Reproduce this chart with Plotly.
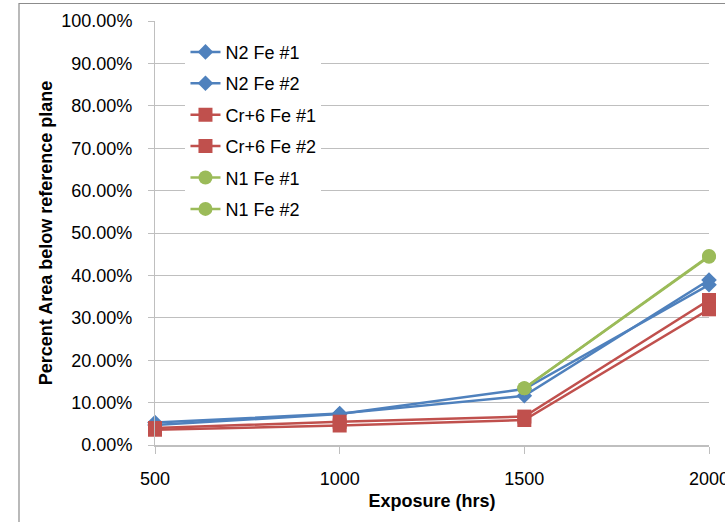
import plotly.graph_objects as go

exposure = [500, 1000, 1500, 2000]
exposure_n1 = [1500, 2000]

n2_fe1 = [0.053, 0.074, 0.116, 0.389]
n2_fe2 = [0.047, 0.073, 0.132, 0.378]
cr6_fe1 = [0.040, 0.055, 0.067, 0.342]
cr6_fe2 = [0.036, 0.046, 0.059, 0.320]
n1_fe1 = [0.134, 0.446]
n1_fe2 = [0.134, 0.444]

y_ticks = [i / 10 for i in range(11)]
x_ticks = [500, 1000, 1500, 2000]

BLUE = "#4F81BD"
RED = "#C0504D"
GREEN = "#9BBB59"
FONT = "Liberation Sans, Arial, sans-serif"

series = [
    ("N2 Fe #1", exposure, n2_fe1, BLUE, "diamond", 12),
    ("N2 Fe #2", exposure, n2_fe2, BLUE, "diamond", 12),
    ("Cr+6 Fe #1", exposure, cr6_fe1, RED, "square", 14),
    ("Cr+6 Fe #2", exposure, cr6_fe2, RED, "square", 14),
    ("N1 Fe #1", exposure_n1, n1_fe1, GREEN, "circle", 14),
    ("N1 Fe #2", exposure_n1, n1_fe2, GREEN, "circle", 14),
]

fig = go.Figure()
for i, (name, xs, ys, color, sym, sz) in enumerate(series):
    fig.add_trace(go.Scatter(
        x=xs, y=ys, name=name, mode="lines+markers",
        line=dict(color=color, width=2.5),
        marker=dict(color=color, symbol=sym, size=sz),
        legendgroup=f"g{i}", cliponaxis=False,
    ))

fig.update_layout(
    width=725, height=522,
    margin=dict(l=155, r=16, t=21, b=77),
    paper_bgcolor="white", plot_bgcolor="white",
    font=dict(family=FONT, size=18, color="black"),
    showlegend=True,
    legend=dict(
        x=0.055, y=0.97, xanchor="left", yanchor="top",
        bgcolor="white", borderwidth=0,
        font=dict(family=FONT, size=18, color="black"),
        tracegroupgap=5, traceorder="grouped",
    ),
    xaxis=dict(
        range=[500, 2000], tickvals=x_ticks, ticktext=[str(v) for v in x_ticks],
        showgrid=False, zeroline=False,
        showline=True, linecolor="#BFBFBF", linewidth=1.5,
        ticks="outside", ticklen=7, tickcolor="#BFBFBF",
        ticklabelstandoff=10, automargin=False, ticklabeloverflow="allow",
        title=dict(text="<b>Exposure (hrs)</b>", font=dict(size=18), standoff=6),
    ),
    yaxis=dict(
        range=[0, 1], tickvals=y_ticks, tickformat=".2%",
        showgrid=True, gridcolor="#BFBFBF", gridwidth=1, zeroline=False,
        showline=True, linecolor="#BFBFBF", linewidth=1,
        ticks="outside", ticklen=6, tickcolor="#BFBFBF",
        ticklabelstandoff=12, automargin=False,
        title=dict(text="<b>Percent Area below reference plane</b>", font=dict(size=18), standoff=4),
    ),
    shapes=[dict(
        type="rect", xref="paper", yref="paper",
        x0=-155/554 + 19/554, x1=1.5, y0=-1, y1=(522-77-3.5)/424,
        line=dict(color="#8C8C8C", width=1.2), fillcolor="rgba(0,0,0,0)", layer="below",
    )],
)

fig.write_html("out.html")
